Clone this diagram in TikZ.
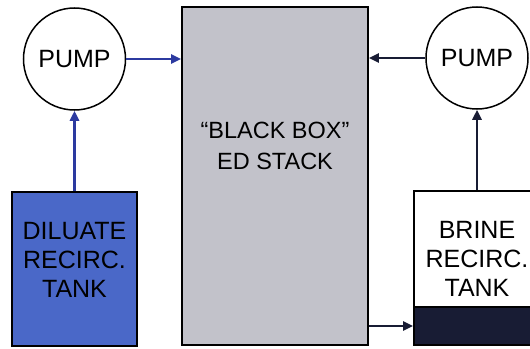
\documentclass[tikz,border=0pt]{standalone}
\usepackage{fontspec}
\setmainfont{Liberation Sans}
\usetikzlibrary{arrows.meta}
\definecolor{dilblue}{RGB}{74,104,200}
\definecolor{lineblue}{RGB}{44,58,160}
\definecolor{navy}{RGB}{24,28,52}
\definecolor{stackgrey}{RGB}{194,194,202}
\tikzset{
  pump/.style={draw, circle, minimum size=102pt, inner sep=0pt, line width=1.5pt,
               font=\fontsize{25}{30}\selectfont},
  tank/.style={draw, rectangle, minimum width=125pt, minimum height=154pt,
               line width=1.8pt},
  lbl/.style={align=center, font=\fontsize{25}{29}\selectfont},
  flow/.style={-{Triangle[length=10pt, width=9pt]}, line width=2.5pt},
  blueflow/.style={flow, lineblue},
  darkflow/.style={flow, navy},
}

\begin{document}
\begin{tikzpicture}[x=1pt, y=-1pt]

  \useasboundingbox (0,0) rectangle (530,348);

  % ---------- the stack in the middle ----------
  \node[tank, fill=stackgrey, minimum width=186pt, minimum height=338pt,
        label={[lbl, font=\fontsize{23.5}{31}\selectfont, yshift=30pt]center:``BLACK BOX''\\ED STACK}]
    (stack) at (275,176) {};

  % ---------- diluate loop, left ----------
  \node[pump] (pumpL) at (74.5,59) {PUMP};
  \node[tank, fill=dilblue,
        label={[lbl, yshift=9pt]center:DILUATE\\RECIRC.\\TANK}] (dil) at (74.5,269) {};

  \draw[blueflow] (dil.north) -- (pumpL.south);
  \draw[blueflow] (pumpL.east) -- (pumpL.east -| stack.west);

  % ---------- brine loop, right ----------
  \node[pump] (pumpR) at (477,58) {PUMP};
  \node[tank, fill=white, minimum width=126pt,
        label={[lbl, yshift=9pt]center:BRINE\\RECIRC.\\TANK}] (brine) at (477,268) {};
  \node[tank, fill=navy, minimum width=126pt, minimum height=38pt, anchor=south]
    (band) at (brine.south) {};

  \draw[darkflow] (brine.north) -- (pumpR.south);
  \draw[darkflow] (pumpR.west) -- (pumpR.west -| stack.east);
  \draw[darkflow] (band.west -| stack.east) -- (band.west);

\end{tikzpicture}
\end{document}
